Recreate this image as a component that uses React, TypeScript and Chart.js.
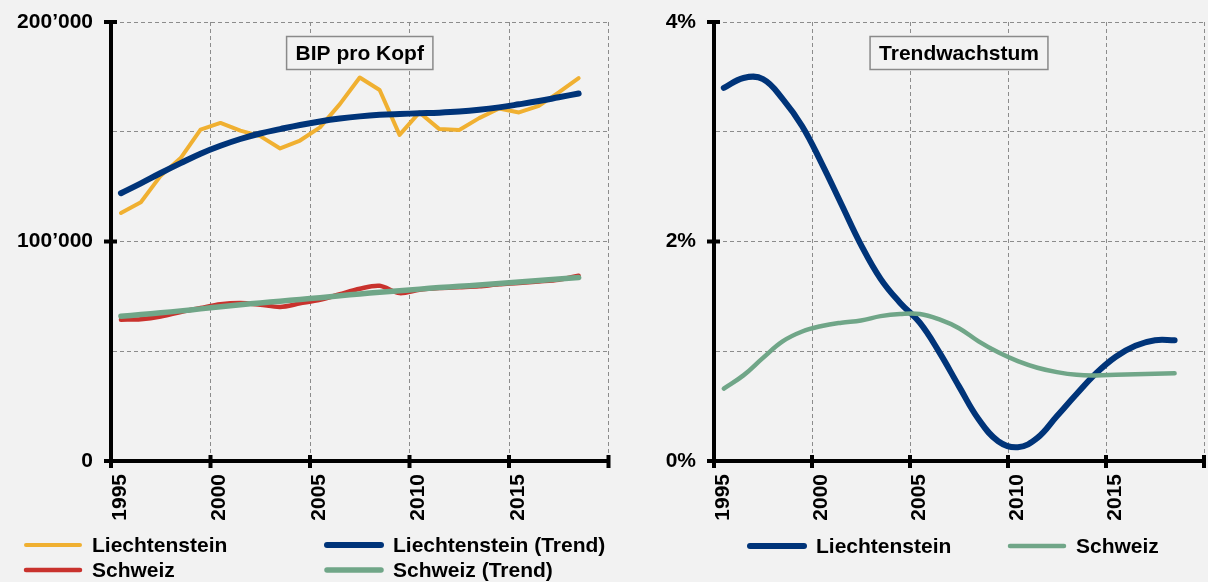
import React, { useEffect, useRef } from 'react';
import { Chart, registerables } from 'chart.js';

Chart.register(...registerables);

// ---------- data ----------
const years = [1995, 1996, 1997, 1998, 1999, 2000, 2001, 2002, 2003, 2004, 2005, 2006,
  2007, 2008, 2009, 2010, 2011, 2012, 2013, 2014, 2015, 2016, 2017, 2018];

// BIP pro Kopf (CHF)
const gdpLiechtenstein = [113000, 117900, 130000, 138000, 151000, 154000, 150500, 148000,
  142400, 146000, 152000, 162600, 174700, 169000, 148600, 158800, 151200, 150800, 156200,
  160600, 158800, 161800, 167900, 174400];
const gdpLiechtensteinTrend = [122000, 126500, 131200, 135700, 140000, 143600, 146700, 149200,
  151200, 153100, 154700, 156000, 157000, 157700, 158100, 158400, 158700, 159200, 160000,
  161100, 162500, 164000, 165700, 167400];
const gdpSchweiz = [64400, 64600, 65800, 67900, 69700, 71400, 72000, 71200, 70200, 71800,
  73400, 76000, 78500, 79800, 76500, 78000, 78800, 79200, 79600, 80500, 81100, 81800, 82600, 84400];
const gdpSchweizTrend = [65900, 66700, 67500, 68400, 69300, 70300, 71200, 72000, 72800, 73600,
  74400, 75300, 76100, 76900, 77600, 78300, 79000, 79600, 80200, 80900, 81500, 82200, 82900, 83600];

// Trendwachstum (%)
const growthLiechtenstein = [3.40, 3.49, 3.48, 3.30, 3.05, 2.71, 2.34, 1.97, 1.66, 1.44, 1.26,
  0.99, 0.68, 0.38, 0.18, 0.125, 0.21, 0.41, 0.61, 0.80, 0.95, 1.05, 1.10, 1.10];
const growthSchweiz = [0.66, 0.78, 0.94, 1.09, 1.18, 1.23, 1.26, 1.28, 1.32, 1.34, 1.34, 1.29,
  1.21, 1.09, 0.99, 0.91, 0.85, 0.81, 0.785, 0.78, 0.785, 0.79, 0.795, 0.80];

// axes / ticks
const xMin = 1995;
const xMax = 2020;
const xStep = 5;
const xMarkTicks = [1995, 2000, 2005, 2010, 2015, 2020];
const gdpMarkTicks = [0, 100000, 200000];
const growthMarkTicks = [0, 2, 4];

// ---------- styling ----------
const FONT = '"Liberation Sans", Arial, Helvetica, sans-serif';
const BG = '#F2F2F2';
const YELLOW = '#F0B031';
const NAVY = '#003479';
const RED = '#C9322D';
const GREEN = '#70A688';
const GRID = '#8C8C8C';

const pts = (vals: number[]) => years.map((y, i) => ({ x: y + 0.5, y: vals[i] }));

const fmtGdp = (v: number) => (v === 0 ? '0' : `${Math.round(v / 1000)}\u2019000`);

// ---------- plugins ----------
const titleBoxPlugin = {
  id: 'titleBox',
  beforeDatasetsDraw(chart: any, _a: any, opts: any) {
    const { ctx, chartArea } = chart;
    ctx.save();
    ctx.font = `bold 21px ${FONT}`;
    const w = ctx.measureText(opts.text).width + 18;
    const h = 33;
    const cx = (chartArea.left + chartArea.right) / 2;
    const top = chartArea.top + 14.5;
    ctx.fillStyle = BG;
    ctx.fillRect(cx - w / 2, top, w, h);
    ctx.strokeStyle = '#8A8A8A';
    ctx.lineWidth = 1.5;
    ctx.strokeRect(cx - w / 2, top, w, h);
    ctx.fillStyle = '#000';
    ctx.textAlign = 'center';
    ctx.textBaseline = 'middle';
    ctx.fillText(opts.text, cx, top + h / 2 + 1);
    ctx.restore();
  },
};

const axisMarksPlugin = {
  id: 'axisMarks',
  afterDraw(chart: any, _a: any, opts: any) {
    const { ctx, chartArea, scales } = chart;
    ctx.save();
    ctx.strokeStyle = '#000';
    ctx.lineWidth = 4;
    ctx.beginPath();
    for (const v of opts.x) {
      const px = scales.x.getPixelForValue(v);
      ctx.moveTo(px, chartArea.bottom - 6);
      ctx.lineTo(px, chartArea.bottom + 7);
    }
    for (const v of opts.y) {
      const py = scales.y.getPixelForValue(v);
      ctx.moveTo(chartArea.left - 7, py);
      ctx.lineTo(chartArea.left + 6, py);
    }
    ctx.stroke();
    ctx.restore();
  },
};

const legendPlugin = {
  id: 'boxLegend',
  afterDraw(chart: any, _a: any, opts: any) {
    const { ctx } = chart;
    ctx.save();
    ctx.font = `bold 21px ${FONT}`;
    ctx.textBaseline = 'middle';
    ctx.textAlign = 'left';
    for (const item of opts.items) {
      const ds = chart.data.datasets[item.i];
      ctx.strokeStyle = ds.borderColor;
      ctx.lineWidth = Math.min(ds.borderWidth, 6);
      ctx.lineCap = 'round';
      ctx.beginPath();
      ctx.moveTo(item.x, item.y);
      ctx.lineTo(item.x + 54, item.y);
      ctx.stroke();
      ctx.fillStyle = '#000';
      ctx.fillText(ds.label, item.x + 66, item.y + 1);
    }
    ctx.restore();
  },
};

const tickFont = { family: FONT, size: 21, weight: 'bold' as const };

function xScale() {
  return {
    type: 'linear',
    min: xMin,
    max: xMax,
    afterFit: (s: any) => {
      s.height = 121;
      s.paddingLeft = 0;
      s.paddingRight = 0;
      s.paddingTop = 0;
      s.paddingBottom = 0;
    },
    ticks: {
      stepSize: xStep,
      autoSkip: false,
      minRotation: 90,
      maxRotation: 90,
      padding: 13,
      labelOffset: 9,
      color: '#000',
      font: tickFont,
      callback: (v: any) => (v >= xMax ? '' : String(v)),
    },
    grid: { color: GRID, lineWidth: 1, drawTicks: false },
    border: { display: true, color: '#000', width: 4, dash: [4, 3] },
  };
}

function yFit(width: number) {
  return (s: any) => {
    s.width = width;
    s.paddingLeft = 0;
    s.paddingRight = 0;
    s.paddingTop = 0;
    s.paddingBottom = 0;
  };
}

function leftConfig(): any {
  return {
    type: 'line',
    data: {
      datasets: [
        { label: 'Liechtenstein', data: pts(gdpLiechtenstein), borderColor: YELLOW, borderWidth: 4, tension: 0, order: 4 },
        { label: 'Liechtenstein (Trend)', data: pts(gdpLiechtensteinTrend), borderColor: NAVY, borderWidth: 6, tension: 0.4, order: 2 },
        { label: 'Schweiz', data: pts(gdpSchweiz), borderColor: RED, borderWidth: 4.5, tension: 0.3, order: 3 },
        { label: 'Schweiz (Trend)', data: pts(gdpSchweizTrend), borderColor: GREEN, borderWidth: 5.5, tension: 0.4, order: 1 },
      ],
    },
    options: {
      responsive: false,
      animation: false,
      devicePixelRatio: 1,
      layout: { padding: { top: 22, right: 3.5, left: 0, bottom: 0 } },
      elements: { point: { radius: 0 }, line: { borderCapStyle: 'round', borderJoinStyle: 'round', fill: false } },
      plugins: {
        legend: { display: false },
        tooltip: { enabled: false },
        titleBox: { text: 'BIP pro Kopf' },
        axisMarks: { x: xMarkTicks, y: gdpMarkTicks },
        boxLegend: {
          items: [
            { i: 0, x: 26, y: 545 },
            { i: 1, x: 327, y: 545 },
            { i: 2, x: 26, y: 570 },
            { i: 3, x: 327, y: 570 },
          ],
        },
      },
      scales: {
        x: xScale(),
        y: {
          type: 'linear',
          min: 0,
          max: 200000,
          afterFit: yFit(111),
          ticks: {
            stepSize: 50000,
            autoSkip: false,
            padding: 18,
            color: '#000',
            font: tickFont,
            callback: (v: any) => (v % 100000 === 0 ? fmtGdp(v) : ''),
          },
          grid: { color: GRID, lineWidth: 1, drawTicks: false },
          border: { display: true, color: '#000', width: 4, dash: [4, 3] },
        },
      },
    },
    plugins: [titleBoxPlugin, axisMarksPlugin, legendPlugin],
  };
}

function rightConfig(): any {
  return {
    type: 'line',
    data: {
      datasets: [
        { label: 'Liechtenstein', data: pts(growthLiechtenstein), borderColor: NAVY, borderWidth: 6, tension: 0.4, order: 2 },
        { label: 'Schweiz', data: pts(growthSchweiz), borderColor: GREEN, borderWidth: 4.5, tension: 0.4, order: 1 },
      ],
    },
    options: {
      responsive: false,
      animation: false,
      devicePixelRatio: 1,
      layout: { padding: { top: 22, right: 4, left: 0, bottom: 0 } },
      elements: { point: { radius: 0 }, line: { borderCapStyle: 'round', borderJoinStyle: 'round', fill: false } },
      plugins: {
        legend: { display: false },
        tooltip: { enabled: false },
        titleBox: { text: 'Trendwachstum' },
        axisMarks: { x: xMarkTicks, y: growthMarkTicks },
        boxLegend: {
          items: [
            { i: 0, x: 138, y: 546 },
            { i: 1, x: 398, y: 546 },
          ],
        },
      },
      scales: {
        x: xScale(),
        y: {
          type: 'linear',
          min: 0,
          max: 4,
          afterFit: yFit(102),
          ticks: {
            stepSize: 1,
            autoSkip: false,
            padding: 18,
            color: '#000',
            font: tickFont,
            callback: (v: any) => (v % 2 === 0 ? `${v}%` : ''),
          },
          grid: { color: GRID, lineWidth: 1, drawTicks: false },
          border: { display: true, color: '#000', width: 4, dash: [4, 3] },
        },
      },
    },
    plugins: [titleBoxPlugin, axisMarksPlugin, legendPlugin],
  };
}

function ChartCanvas({ make, left, width, height }: { make: () => any; left: number; width: number; height: number }) {
  const ref = useRef<HTMLCanvasElement>(null);
  useEffect(() => {
    const chart = new Chart(ref.current as HTMLCanvasElement, make());
    return () => chart.destroy();
  }, [make]);
  return (
    <canvas
      ref={ref}
      width={width}
      height={height}
      style={{ position: 'absolute', left, top: 0, width, height }}
    />
  );
}

export default function App() {
  useEffect(() => {
    document.body.style.margin = '0';
    document.body.style.background = BG;
  }, []);
  return (
    <div style={{ position: 'absolute', left: 0, top: 0, width: 1208, height: 582, background: BG, overflow: 'hidden' }}>
      <ChartCanvas make={leftConfig} left={0} width={612} height={582} />
      <ChartCanvas make={rightConfig} left={612} width={596} height={582} />
    </div>
  );
}
